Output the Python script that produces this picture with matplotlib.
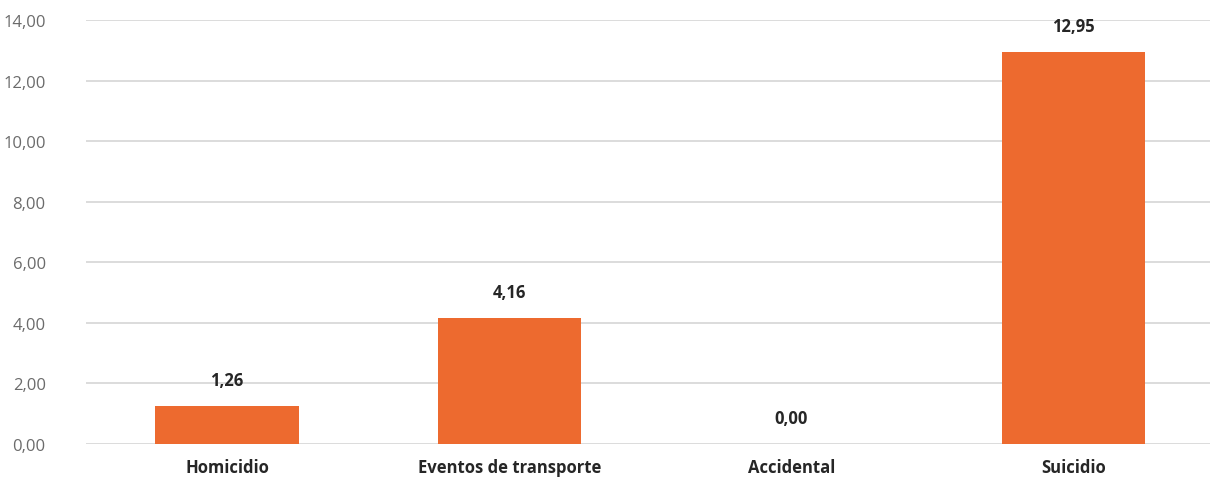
import matplotlib
matplotlib.use('Agg')
import matplotlib.pyplot as plt

categorias = ['Homicidio', 'Eventos de transporte', 'Accidental', 'Suicidio']
valores = [1.26, 4.16, 0.00, 12.95]
yticks = [0, 2, 4, 6, 8, 10, 12, 14]

plt.rcParams['font.family'] = ['Open Sans', 'DejaVu Sans']

fig = plt.figure(figsize=(12.1, 4.89), dpi=100)
ax = fig.add_axes([0.071, 0.09, 0.933, 0.867])

x = range(len(categorias))
ax.bar(x, valores, width=0.507, color='#ED6A2F', zorder=3)

for i, v in zip(x, valores):
    ax.text(i, v + 0.55, f'{v:.2f}'.replace('.', ','), ha='center', va='bottom',
            fontsize=12, fontweight='bold', color='#262626')

ax.set_xlim(-0.5, 3.5)
ax.set_ylim(0, 14)
ax.set_yticks(yticks)
ax.set_yticklabels([f'{t:.2f}'.replace('.', ',') for t in yticks], color='#6b6b6b', fontsize=12)
ax.set_xticks(list(x))
ax.set_xticklabels(categorias, fontsize=12, fontweight='bold', color='#262626')
ax.tick_params(axis='both', length=0)
ax.tick_params(axis='y', pad=29)
ax.tick_params(axis='x', pad=10)
ax.yaxis.grid(True, color='#d9d9d9', linewidth=1.3, zorder=0)
for s in ax.spines.values():
    s.set_visible(False)

fig.savefig('out.png', dpi=100)
